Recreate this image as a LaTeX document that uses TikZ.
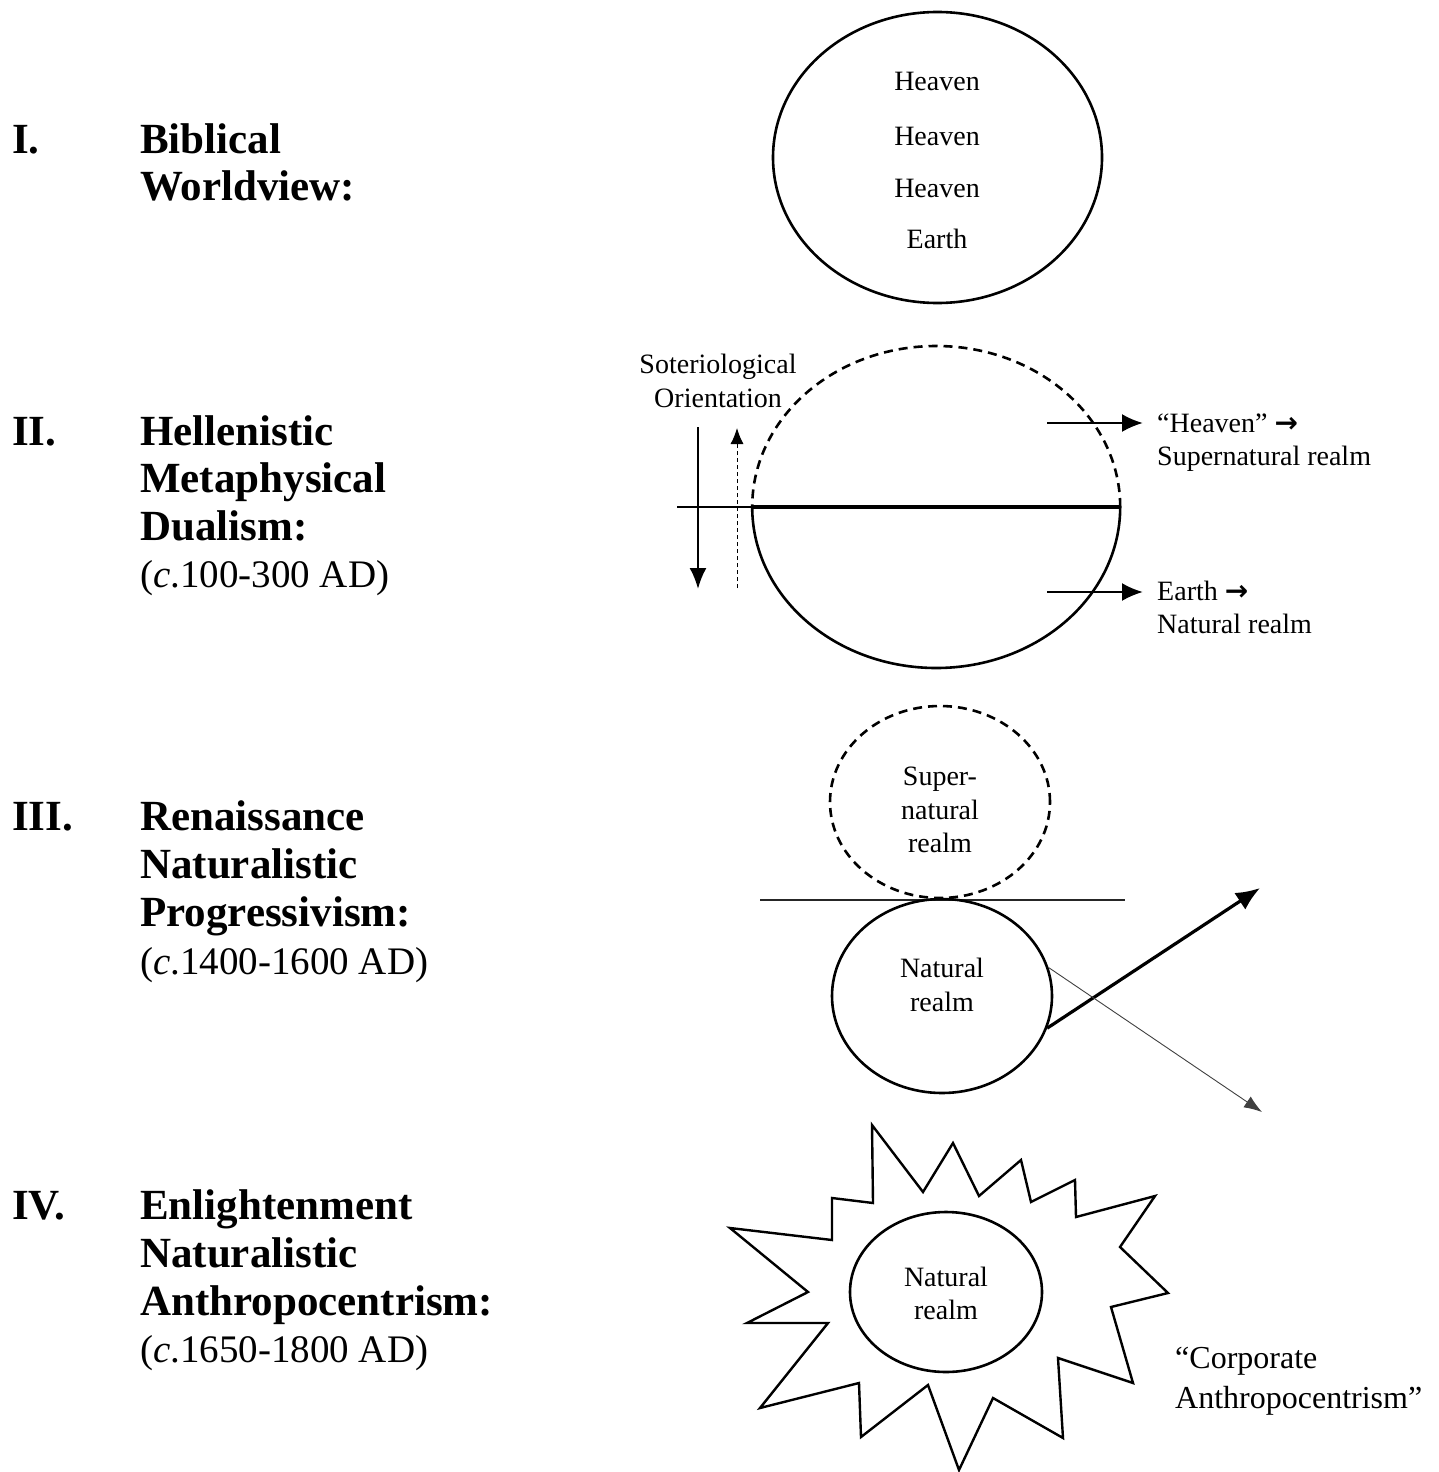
\documentclass[tikz,border=0pt]{standalone}
\usepackage{fontspec}
\setmainfont{Liberation Serif}
\newfontfamily\arrowfont{DejaVu Sans}
\newcommand{\rarr}{{\arrowfont\bfseries →}}
\usetikzlibrary{arrows.meta,shapes.geometric}

\begin{document}
\begin{tikzpicture}[x=1pt,y=-1pt,
  numeral/.style={anchor=base west, inner sep=0pt, font=\fontsize{43}{48}\selectfont\bfseries},
  heading/.style={anchor=base west, inner sep=0pt, font=\fontsize{43}{48}\selectfont\bfseries},
  datetext/.style={anchor=base west, inner sep=0pt, font=\fontsize{39}{48}\selectfont},
  lbl/.style={anchor=base, inner sep=0pt, font=\fontsize{28}{34}\selectfont},
  lblw/.style={anchor=base west, inner sep=0pt, font=\fontsize{28}{34}\selectfont},
  quote/.style={anchor=base west, inner sep=0pt, font=\fontsize{32}{40}\selectfont},
  realm/.style={ellipse, draw, line width=2.6pt, inner sep=0pt},
  ghost/.style={ellipse, inner sep=0pt},
  dashcirc/.style={line width=2.6pt, dash pattern=on 9pt off 6pt},
  pointer/.style={line width=2.4pt, -{Latex[length=21pt,width=18pt]}},
  faint/.style={line width=0.9pt, black!75, -{Latex[length=18pt,width=13pt]}}
]
\useasboundingbox (0,0) rectangle (1438,1472);

% ---------- I. Biblical worldview ----------
\node[numeral] (n1) at (12,153) {I.};
\node[heading] (t1a) at (140,153) {Biblical};
\node[heading] (t1b) at (140,200) {Worldview:};

\node[realm, minimum width=329pt, minimum height=291pt] (c1) at (937.5,157.5) {};
\node[lbl] (hv1) at (937,90) {Heaven};
\node[lbl] (hv2) at (937,145) {Heaven};
\node[lbl] (hv3) at (937,197) {Heaven};
\node[lbl] (ea1) at (937,248) {Earth};

% ---------- II. Hellenistic metaphysical dualism ----------
\node[numeral] (n2) at (12,445) {II.};
\node[heading] (t2a) at (140,445) {Hellenistic};
\node[heading] (t2b) at (140,492) {Metaphysical};
\node[heading] (t2c) at (140,540) {Dualism:};
\node[datetext] (t2d) at (140,587) {(\textit{c}.100-300 AD)};

\node[ghost, minimum width=368pt, minimum height=322pt] (c2) at (936,507) {};
\draw[dashcirc] (c2.east) arc[start angle=0, end angle=-180, x radius=184, y radius=161];
\draw[line width=2.6pt] (c2.east) arc[start angle=0, end angle=180, x radius=184, y radius=161];
\coordinate (hl) at (677,507);
\draw[line width=2.6pt] (hl) -- (c2.east);
\draw[line width=3.8pt] (c2.west) -- (c2.east);

\node[lbl] (so1) at (718,373) {Soteriological};
\node[lbl] (so2) at (718,407) {Orientation};
\coordinate (sdA) at (698,427);
\coordinate (sdB) at (698,589);
\draw[line width=2.4pt, -{Latex[length=21pt,width=17pt]}] (sdA) -- (sdB);
\coordinate (suA) at (737,588);
\coordinate (suB) at (737,428);
\draw[line width=1pt, dash pattern=on 4pt off 3pt, -{Latex[length=16pt,width=13pt]}] (suA) -- (suB);

\coordinate (haA) at (1047,423);
\coordinate (haB) at (1143,423);
\draw[pointer] (haA) -- (haB);
\node[lblw] (hq) at (1157,432) {“Heaven” \rarr};
\node[lblw] (hs) at (1157,465) {Supernatural realm};

\coordinate (eaA) at (1047,592);
\coordinate (eaB) at (1143,592);
\draw[pointer] (eaA) -- (eaB);
\node[lblw] (eq) at (1157,600) {Earth \rarr};
\node[lblw] (es) at (1157,633) {Natural realm};

% ---------- III. Renaissance naturalistic progressivism ----------
\node[numeral] (n3) at (12,830) {III.};
\node[heading] (t3a) at (140,830) {Renaissance};
\node[heading] (t3b) at (140,878) {Naturalistic};
\node[heading] (t3c) at (140,926) {Progressivism:};
\node[datetext] (t3d) at (140,974) {(\textit{c}.1400-1600 AD)};

\node[ellipse, draw, dashcirc, inner sep=0pt, minimum width=220pt, minimum height=192pt] (s3) at (940,802) {};
\node[lbl] (s3a) at (940,785) {Super-};
\node[lbl] (s3b) at (940,819) {natural};
\node[lbl] (s3c) at (940,852) {realm};

\coordinate (l3a) at (760,900);
\coordinate (l3b) at (1125,900);
\draw[line width=2.8pt, black!85] (l3a) -- (l3b);

\node[realm, minimum width=220pt, minimum height=194pt] (r3) at (942,996) {};
\node[lbl] (r3a) at (942,977) {Natural};
\node[lbl] (r3b) at (942,1011) {realm};

\coordinate (up3) at (1260,888);
\coordinate (dn3) at (1262,1112);
\draw[line width=3.2pt, -{Latex[length=24pt,width=20pt]}] (r3.-17) -- (up3);
\draw[faint] (r3.15) -- (dn3);

% ---------- IV. Enlightenment naturalistic anthropocentrism ----------
\node[numeral] (n4) at (12,1219) {IV.};
\node[heading] (t4a) at (140,1219) {Enlightenment};
\node[heading] (t4b) at (140,1267) {Naturalistic};
\node[heading] (t4c) at (140,1315) {Anthropocentrism:};
\node[datetext] (t4d) at (140,1362) {(\textit{c}.1650-1800 AD)};

% jagged sunburst around the natural realm
\draw[line width=2.4pt, line join=miter]
  (872,1125) -- (923,1192) -- (953,1143) -- (979,1196) -- (1021,1160)
  -- (1031,1202) -- (1075,1180) -- (1076,1217) -- (1155,1196) -- (1120,1247)
  -- (1168,1293) -- (1111,1307) -- (1133,1383) -- (1058,1358) -- (1063,1438)
  -- (993,1398) -- (959,1470) -- (928,1385) -- (861,1437) -- (859,1383)
  -- (760,1408) -- (828,1323) -- (747,1323) -- (808,1292) -- (730,1228)
  -- (832,1240) -- (832,1198) -- (873,1203) -- cycle;

\node[realm, minimum width=192pt, minimum height=160pt] (r4) at (946,1292) {};
\node[lbl] (r4a) at (946,1286) {Natural};
\node[lbl] (r4b) at (946,1319) {realm};

\node[quote] (cq1) at (1175,1368) {“Corporate};
\node[quote] (cq2) at (1175,1408) {Anthropocentrism”};
\end{tikzpicture}
\end{document}
